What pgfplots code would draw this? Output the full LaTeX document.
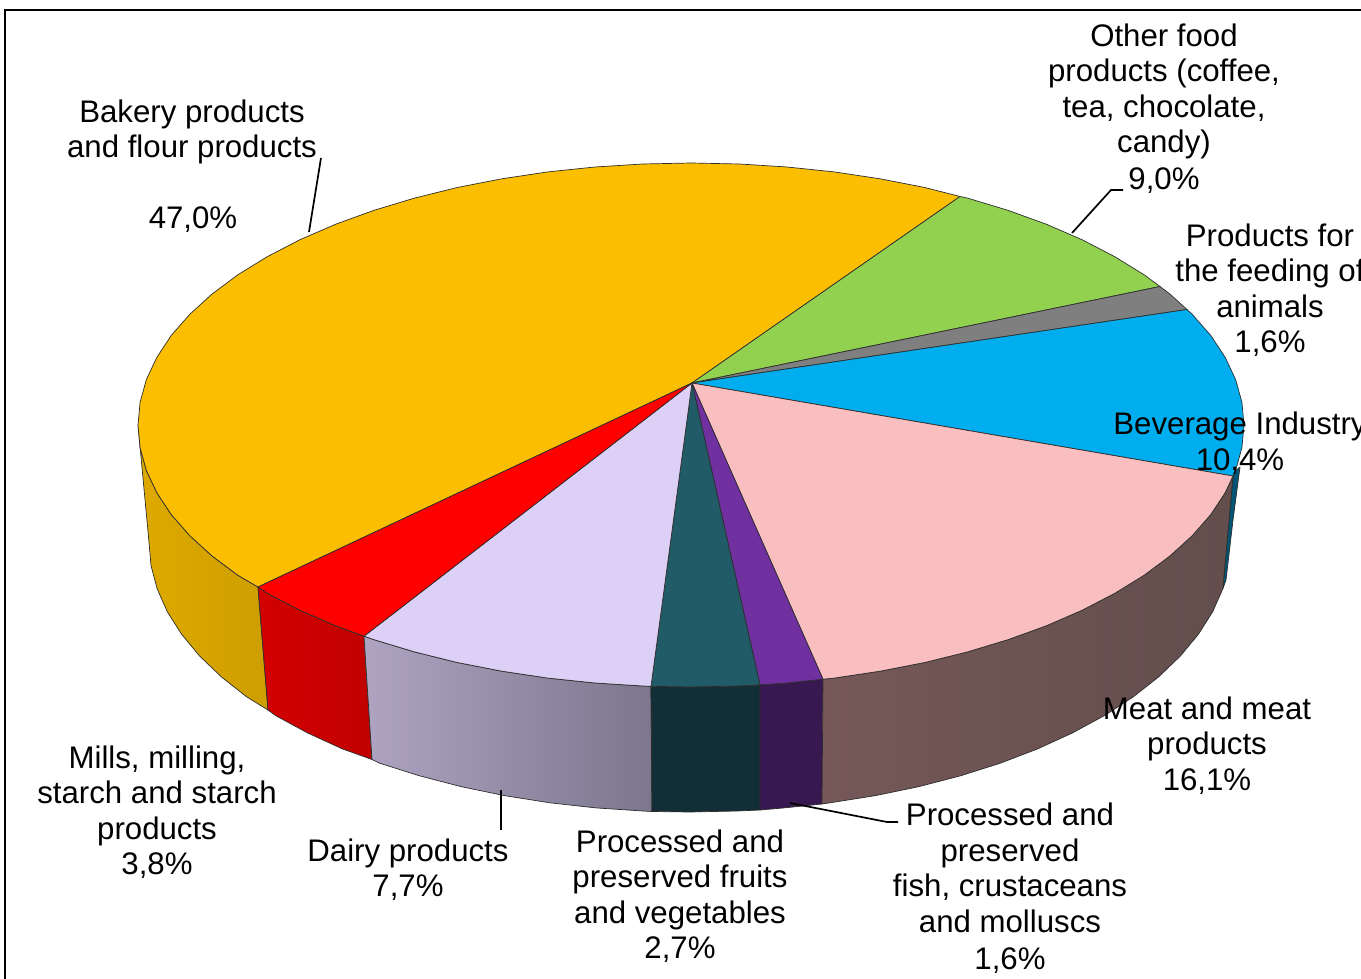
\documentclass[border=0pt]{standalone}
\usepackage{fontspec}
\setmainfont{Liberation Sans}
\usepackage{pgfplots}
\pgfplotsset{compat=1.18}
\definecolor{topYellow}{RGB}{251,190,0}
\definecolor{topRed}{RGB}{255,0,0}
\definecolor{topLav}{RGB}{220,208,246}
\definecolor{topTeal}{RGB}{33,91,104}
\definecolor{topPurple}{RGB}{112,48,160}
\definecolor{topPink}{RGB}{249,191,192}
\definecolor{topBlue}{RGB}{0,174,239}
\definecolor{topGrey}{RGB}{127,127,127}
\definecolor{topGreen}{RGB}{146,208,80}
\definecolor{rimLine}{RGB}{45,45,45}
\tikzset{
  lbl/.style={font=\fontsize{31.2}{35.5}\selectfont, align=center, inner sep=0pt, text=black},
}
\pgfplotsset{
  wedge/.style={draw=rimLine, line width=0.7pt, line join=round},
  leader/.style={draw=black, line width=1.7pt},
}
\begin{document}
\begin{tikzpicture}
\clip (0,0) rectangle (1361pt,979pt);
\begin{axis}[
  at={(0,0)}, anchor=south west,
  scale only axis, width=1361pt, height=979pt,
  xmin=0, xmax=1361, ymin=0, ymax=979,
  y dir=reverse, hide axis, clip=false,
]
% outer frame
\addplot[draw=black, line width=2.6pt] coordinates {(5,985) (5,10) (1370,10)};

% side walls of the pie, back to front
\addplot[wedge, left color={rgb,255:red,222;green,170;blue,0}, right color={rgb,255:red,205;green,158;blue,0}] coordinates {
 (138,425) (140.1,447.8) (146.4,470.5) (156.9,492.8) (171.3,514.6) (189.8,535.7) (212.1,556) (238,575.3) (258,587)
 (268,710) (246.8,696.9) (221.5,677) (199.7,656.1) (181.6,634.3) (167.4,611.9) (157.2,588.9) (151,565.5) (149,542)} -- cycle;
\addplot[wedge, left color={rgb,255:red,212;green,0;blue,0}, right color={rgb,255:red,192;green,0;blue,0}] coordinates {
 (258,587) (267.4,593.4) (300,610.3) (335.5,625.7) (364,636.2)
 (372,759.5) (342.2,748.8) (307.5,732.9) (275.6,715.6) (268,710)} -- cycle;
\addplot[wedge, left color={rgb,255:red,174;green,164;blue,194}, right color={rgb,255:red,124;green,118;blue,142}] coordinates {
 (364,636.2) (373.8,639.6) (414.5,651.9) (457.3,662.5) (501.9,671.2) (547.9,678.1) (595,683) (642.8,686) (651,686.3)
 (652,811.5) (642.9,811) (596.1,807.9) (549.9,802.8) (505,795.7) (461.4,786.7) (419.5,775.8) (379.7,763.2) (372,759.5)} -- cycle;
\addplot[wedge, fill={rgb,255:red,18;green,46;blue,54}] coordinates {
 (651,686.3) (691,687) (739.2,686) (760,684.9)
 (760,810) (737.1,811) (690,812) (652,811.5)} -- cycle;
\addplot[wedge, fill={rgb,255:red,56;green,24;blue,80}] coordinates {
 (760,684.9) (787,683) (823,679.2)
 (822,804) (783.9,807.9) (760,810)} -- cycle;
\addplot[wedge, fill={rgb,255:red,0;green,84;blue,116}] coordinates {
 (1233,476) (1235.6,470.5) (1240,467)
 (1233,520) (1226,580) (1222.8,588.9)} -- cycle;
\addplot[wedge, left color={rgb,255:red,118;green,88;blue,88}, middle color={rgb,255:red,102;green,80;blue,78}, right color={rgb,255:red,98;green,78;blue,76}] coordinates {
 (823,679.2) (834.1,678.1) (880.1,671.2) (924.7,662.5) (967.5,651.9) (1008.2,639.6) (1046.5,625.7) (1082,610.3) (1114.6,593.4)
 (1144,575.3) (1169.9,556) (1192.2,535.7) (1210.7,514.6) (1225.1,492.8) (1233,476)
 (1222.8,588.9) (1212.6,611.9) (1198.4,634.3) (1180.3,656.1) (1158.5,677) (1133.2,696.9) (1104.4,715.6) (1072.5,732.9)
 (1037.8,748.8) (1000.3,763.2) (960.5,775.8) (918.6,786.7) (875,795.7) (830,802.8) (822,804)} -- cycle;

% top face, one wedge per category
\addplot[wedge, fill=topYellow] coordinates {
 (692,383) (258,587) (238,575.3) (212.1,556) (189.8,535.7) (171.3,514.6) (156.9,492.8) (146.4,470.5) (140.1,447.8)
 (138,425) (140.1,402.2) (146.4,379.5) (156.9,357.2) (171.3,335.4) (189.8,314.3) (212.1,294) (238,274.7) (267.4,256.6)
 (300,239.7) (335.5,224.3) (373.8,210.4) (414.5,198.1) (457.3,187.5) (501.9,178.8) (547.9,171.9) (595,167) (642.8,164)
 (691,163) (739.2,164) (787,167) (834.1,171.9) (880.1,178.8) (924.7,187.5) (960,196.5)} -- cycle;
\addplot[wedge, fill=topGreen] coordinates {
 (692,383) (960,196.5) (967.5,198.1) (1008.2,210.4) (1046.5,224.3) (1082,239.7) (1114.6,256.6) (1144,274.7) (1160,286.5)} -- cycle;
\addplot[wedge, fill=topGrey] coordinates {
 (692,383) (1160,286.5) (1169.9,294) (1187,309.5)} -- cycle;
\addplot[wedge, fill=topBlue] coordinates {
 (692,383) (1187,309.5) (1192.2,314.3) (1210.7,335.4) (1225.1,357.2) (1235.6,379.5) (1241.9,402.2) (1244,425)
 (1241.9,447.8) (1235.6,470.5) (1233,476)} -- cycle;
\addplot[wedge, fill=topPink] coordinates {
 (692,383) (1233,476) (1225.1,492.8) (1210.7,514.6) (1192.2,535.7) (1169.9,556) (1144,575.3) (1114.6,593.4)
 (1082,610.3) (1046.5,625.7) (1008.2,639.6) (967.5,651.9) (924.7,662.5) (880.1,671.2) (834.1,678.1) (823,679.2)} -- cycle;
\addplot[wedge, fill=topPurple] coordinates {
 (692,383) (823,679.2) (787,683) (760,684.9)} -- cycle;
\addplot[wedge, fill=topTeal] coordinates {
 (692,383) (760,684.9) (739.2,686) (691,687) (651,686.3)} -- cycle;
\addplot[wedge, fill=topLav] coordinates {
 (692,383) (651,686.3) (642.8,686) (595,683) (547.9,678.1) (501.9,671.2) (457.3,662.5) (414.5,651.9) (373.8,639.6) (364,636.2)} -- cycle;
\addplot[wedge, fill=topRed] coordinates {
 (692,383) (364,636.2) (335.5,625.7) (300,610.3) (267.4,593.4) (258,587)} -- cycle;

% leader lines
\addplot[leader] coordinates {(321,158) (309,232)};
\addplot[leader] coordinates {(1123,190) (1111,190) (1072,233)};
\addplot[leader] coordinates {(501,790) (501,830)};
\addplot[leader] coordinates {(790,803) (887,822) (898,822)};

% category labels
\node[lbl] at (axis cs:192,132) {Bakery products\\and flour products};
\node[lbl] at (axis cs:193,220) {47,0\%};
\node[lbl] at (axis cs:1164,108.5) {Other food\\products (coffee,\\tea, chocolate,\\candy)\\[1pt]9,0\%};
\node[lbl] at (axis cs:1270,290) {Products for\\the feeding of\\animals\\1,6\%};
\node[lbl] at (axis cs:1240,443) {Beverage Industry\\10,4\%};
\node[lbl] at (axis cs:1207,745.5) {Meat and meat\\products\\16,1\%};
\node[lbl] at (axis cs:1010,888.5) {Processed and\\preserved\\fish, crustaceans\\and molluscs\\[2pt]1,6\%};
\node[lbl] at (axis cs:680,896) {Processed and\\preserved fruits\\and vegetables\\2,7\%};
\node[lbl] at (axis cs:408,869.5) {Dairy products\\7,7\%};
\node[lbl] at (axis cs:157,812) {Mills, milling,\\starch and starch\\products\\3,8\%};
\end{axis}
\end{tikzpicture}
\end{document}
